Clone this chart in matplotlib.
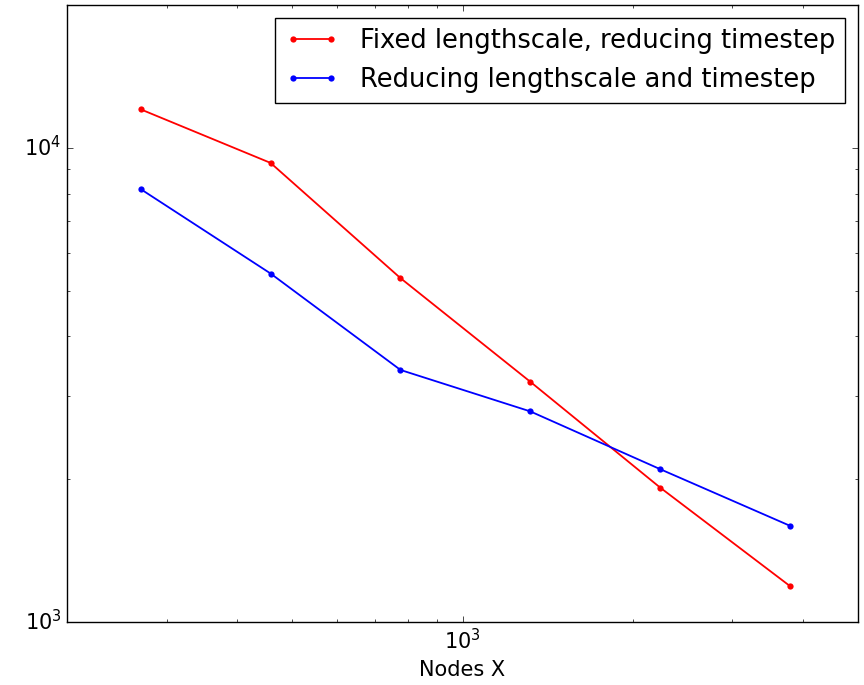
import matplotlib
matplotlib.use('Agg')
import matplotlib.pyplot as plt

plt.style.use('classic')
plt.rcParams['font.family'] = ['DejaVu Sans']
plt.rcParams['font.size'] = 15

# nodes on the x axis (same for both runs)
nodes = [270, 458, 777, 1318, 2236, 3793]
# error values
fixed_ls = [12050, 9290, 5310, 3210, 1920, 1190]
reducing_ls = [8180, 5430, 3400, 2780, 2100, 1595]

labels = ['Fixed lengthscale, reducing timestep',
          'Reducing lengthscale and timestep']

fig = plt.figure(figsize=(8.64, 6.85), dpi=100, facecolor='white')
ax = fig.add_axes([67/864, 1 - 622/685, (858 - 67)/864, (622 - 5)/685])

ax.loglog(nodes, fixed_ls, 'r-', marker='o', markersize=4.5, markeredgewidth=0,
          linewidth=1.3, label=labels[0])
ax.loglog(nodes, reducing_ls, 'b-', marker='o', markersize=4.5, markeredgewidth=0,
          linewidth=1.3, label=labels[1])

ax.set_xlim(200, 5000)
ax.set_ylim(1000, 20000)
ax.set_xlabel('Nodes X')

leg = ax.legend(loc='upper right', numpoints=2, fontsize=18.5, fancybox=False,
                handlelength=2.1, borderaxespad=0.5)
leg.get_frame().set_edgecolor('black')

fig.savefig('out.png', dpi=100, facecolor='white')
